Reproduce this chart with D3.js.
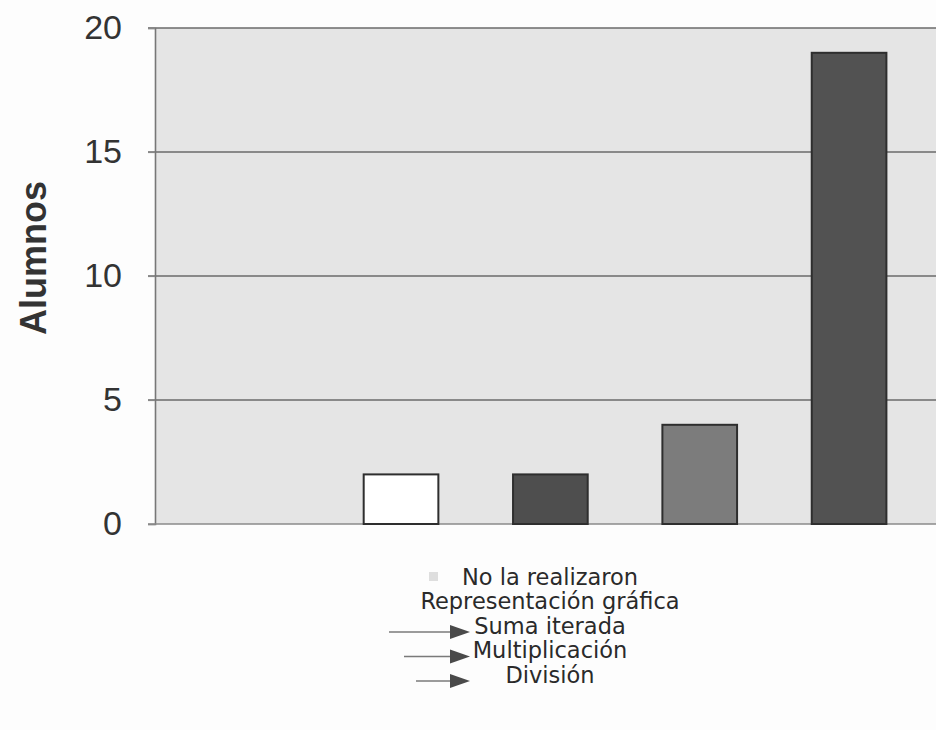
<!DOCTYPE html>
<html>
<head>
<meta charset="utf-8">
<script src="https://cdn.jsdelivr.net/npm/d3@7"></script>
<style>
  html, body { margin: 0; padding: 0; background: #fdfdfd; }
  svg { display: block; }
</style>
</head>
<body>
<svg id="chart" width="936" height="730"></svg>
<script>
const categories = ["No la realizaron", "Representación gráfica", "Suma iterada", "Multiplicación", "División"];
const values = [0, 2, 2, 4, 19];
const barFills = ["#e0e0e0", "#ffffff", "#4e4e4e", "#7c7c7c", "#525252"];
const yTicks = [0, 5, 10, 15, 20];
const yTitle = "Alumnos";
const legendArrows = [false, false, true, true, true];
const arrowStarts = [0, 0, 389, 404, 416];

const svg = d3.select("#chart");
const plot = { left: 155, right: 936, top: 28, bottom: 524 };

const y = d3.scaleLinear().domain([0, 20]).range([plot.bottom, plot.top]);
const x = d3.scaleBand().domain(categories).range([177, 923.75]).paddingInner(0.5).paddingOuter(0.25);

// plot background
svg.append("rect")
  .attr("x", plot.left).attr("y", plot.top)
  .attr("width", plot.right - plot.left).attr("height", plot.bottom - plot.top)
  .attr("fill", "#e5e5e5");

// gridlines
svg.append("g").selectAll("line").data(yTicks.filter(d => d > 0)).join("line")
  .attr("x1", plot.left - 7).attr("x2", plot.right)
  .attr("y1", d => y(d)).attr("y2", d => y(d))
  .attr("stroke", "#6a6a6a").attr("stroke-width", 1.3);

// y axis
const yAxis = d3.axisLeft(y).tickValues(yTicks).tickSize(7).tickPadding(26);
const gy = svg.append("g").attr("transform", `translate(${plot.left},0)`).call(yAxis);
gy.select(".domain").attr("stroke", "#777").attr("stroke-width", 1.6);
gy.selectAll(".tick line").attr("stroke", "#888").attr("stroke-width", 1.2);
gy.selectAll(".tick text")
  .attr("font-family", "'Liberation Sans', Arial, sans-serif")
  .attr("font-size", 34).attr("fill", "#333");

// baseline
svg.append("line")
  .attr("x1", plot.left - 7).attr("x2", plot.right)
  .attr("y1", y(0)).attr("y2", y(0))
  .attr("stroke", "#8a8a8a").attr("stroke-width", 1.6);

// bars
svg.append("g").selectAll("rect").data(categories).join("rect")
  .attr("x", d => x(d))
  .attr("width", x.bandwidth())
  .attr("y", (d, i) => y(values[i]))
  .attr("height", (d, i) => y(0) - y(values[i]))
  .attr("fill", (d, i) => barFills[i])
  .attr("stroke", (d, i) => values[i] > 0 ? "#2e2e2e" : "none")
  .attr("stroke-width", 2);

// y title
svg.append("text")
  .attr("transform", "translate(46,258) rotate(-90)")
  .attr("text-anchor", "middle")
  .attr("font-family", "'Liberation Sans', Arial, sans-serif")
  .attr("font-weight", "bold")
  .attr("font-size", 36).attr("fill", "#333")
  .text(yTitle);

// legend
const lg = svg.append("g");
const rowY = i => 577 + i * 24.5;
lg.selectAll("text").data(categories).join("text")
  .attr("x", 550).attr("y", (d, i) => rowY(i))
  .attr("dy", "0.35em")
  .attr("text-anchor", "middle")
  .attr("font-family", "'DejaVu Sans', Verdana, sans-serif")
  .attr("font-size", 22.5).attr("fill", "#2a2a2a")
  .text(d => d);

// faint marker for first legend entry
lg.append("rect").attr("x", 429).attr("y", 572).attr("width", 9).attr("height", 9)
  .attr("fill", "#d6d6d6").attr("opacity", 0.8);

// arrows
const arrowRows = categories.map((d, i) => ({ i, on: legendArrows[i], x0: arrowStarts[i] })).filter(d => d.on);
lg.selectAll("line.arr").data(arrowRows).join("line")
  .attr("class", "arr")
  .attr("x1", d => d.x0).attr("x2", 452)
  .attr("y1", d => rowY(d.i) + 6).attr("y2", d => rowY(d.i) + 6)
  .attr("stroke", "#7a7a7a").attr("stroke-width", 1.5);
lg.selectAll("path.arr").data(arrowRows).join("path")
  .attr("class", "arr")
  .attr("d", d => { const yy = rowY(d.i) + 6; return `M450,${yy - 7} L470,${yy} L450,${yy + 7} Z`; })
  .attr("fill", "#4a4a4a");
</script>
</body>
</html>
